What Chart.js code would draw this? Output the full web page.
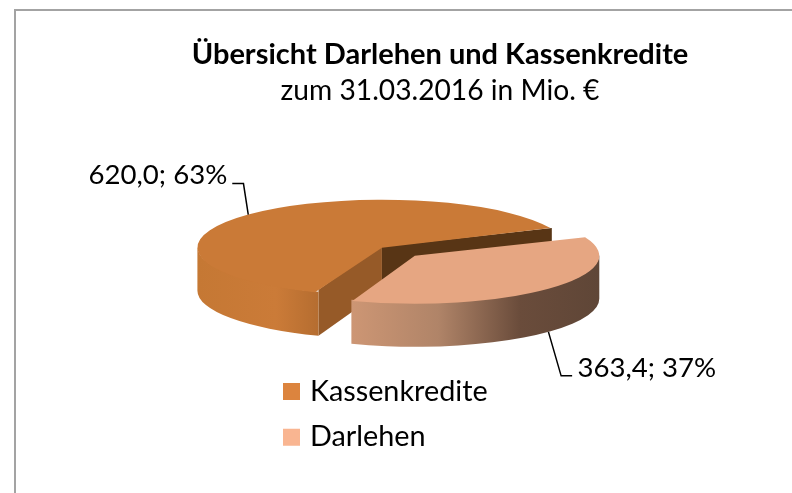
<!DOCTYPE html>
<html><head><meta charset="utf-8">
<script src="https://cdn.jsdelivr.net/npm/chart.js@4"></script>
<style>
html,body{margin:0;padding:0;background:#fff;width:792px;height:493px;overflow:hidden}
#frame{position:absolute;left:14px;top:9px;width:900px;height:600px;border:2px solid #A3A3A3;box-sizing:border-box}
#c{position:absolute;left:0;top:0}
</style></head><body>
<div id="frame"></div>
<canvas id="c" width="880" height="493"></canvas>
<script>
const categories = ['Kassenkredite', 'Darlehen'];
const values = [620.0, 363.4];
const titleText = 'Übersicht Darlehen und Kassenkredite';
const subtitleText = 'zum 31.03.2016 in Mio. €';
const topColors = ['#CA7A37', '#E6A682'];
const legendColors = ['#DC843E', '#F9B591'];
const sideStops = [
  [[0, '#C57834'], [0.65, '#CB7B38'], [1, '#B56D30']],
  [[0, '#CD9674'], [0.35, '#B08468'], [0.68, '#6A4C3B'], [1, '#5F4637']]
];
const wallStart = ['#965A28', null];
const wallEnd = ['#583515', null];
const labelElbows = [[-4.8, -31, -16, -31], [12.7, 44, 23.7, 44]];
const labelText = [[-21, -39, 'right'], [29, 36, 'left']];

const FONT = 'Lato';
const CX = 398.35, CY = 251.7, RX = 184.5, SQUASH = 0.26, DEPTH = 43, EXPLODE = 22.7, OFFSET_DIV = 4;

function slice(el) {
  const mid = (el.startAngle + el.endAngle) / 2;
  const off = el.options.offset / OFFSET_DIV;
  return {
    mid, a0: el.startAngle, a1: el.endAngle, r: RX,
    cx: el.x + Math.cos(mid) * off,
    cy: el.y + Math.sin(mid) * off * SQUASH
  };
}
const pie3d = {
  id: 'pie3d',
  afterLayout(chart) {
    chart.chartArea = {left: CX - 300, right: CX + 300, top: CY - 300, bottom: CY + 300, width: 600, height: 600};
    const l = chart.legend, w = l.width, h = l.height;
    l.left = 270.5; l.right = 270.5 + w; l.top = 360; l.bottom = 360 + h + 40;
  },
  afterDatasetsUpdate(chart) {
    // the arc element grows its drawn radius by offset * fix; compensate so both faces share RX
    chart.getDatasetMeta(0).data.forEach(el => {
      const off = el.options.offset / OFFSET_DIV;
      const fix = 1 - Math.sin(Math.min(Math.PI, el.circumference));
      el.outerRadius = RX - off * fix;
    });
  },
  beforeDatasetsDraw(chart) {
    const ctx = chart.ctx, arcs = chart.getDatasetMeta(0).data;
    arcs.forEach((el, i) => {
      const s = slice(el), ry = s.r * SQUASH;
      const pt = a => [s.cx + Math.cos(a) * s.r, s.cy + Math.sin(a) * ry];
      const wall = (a, color, lift) => {
        const p = pt(a);
        ctx.fillStyle = color;
        ctx.beginPath();
        ctx.moveTo(s.cx, s.cy - lift); ctx.lineTo(p[0], p[1] - lift);
        ctx.lineTo(p[0], p[1] + DEPTH); ctx.lineTo(s.cx, s.cy + DEPTH);
        ctx.closePath(); ctx.fill();
      };
      ctx.save();
      if (Math.sin(s.a1 + Math.PI / 2) > 0 && wallEnd[i]) wall(s.a1, wallEnd[i], 1);
      if (Math.sin(s.a0 - Math.PI / 2) > 0 && wallStart[i]) wall(s.a0, wallStart[i], 3);
      for (let k = 0; k < 2; k++) {
        const from = Math.max(s.a0, k * 2 * Math.PI), to = Math.min(s.a1, k * 2 * Math.PI + Math.PI);
        if (to <= from) continue;
        const xs = [pt(from)[0], pt(to)[0]];
        const g = ctx.createLinearGradient(Math.min(...xs), 0, Math.max(...xs), 0);
        sideStops[i].forEach(st => g.addColorStop(st[0], st[1]));
        ctx.fillStyle = g;
        ctx.beginPath();
        ctx.ellipse(s.cx, s.cy - 1, s.r, ry, 0, from, to, false);
        ctx.ellipse(s.cx, s.cy + DEPTH, s.r, ry, 0, to, from, true);
        ctx.closePath(); ctx.fill();
      }
      ctx.restore();
    });
    ctx.save();
    ctx.translate(CX, CY); ctx.scale(1, SQUASH); ctx.translate(-CX, -CY);
  },
  afterDatasetsDraw(chart) {
    chart.ctx.restore();
  },
  afterDraw(chart) {
    const ctx = chart.ctx, arcs = chart.getDatasetMeta(0).data;
    const total = values.reduce((a, b) => a + b, 0);
    arcs.forEach((el, i) => {
      const s = slice(el);
      const x = s.cx + Math.cos(s.mid) * s.r;
      const y = s.cy + Math.sin(s.mid) * s.r * SQUASH + (Math.sin(s.mid) > 0 ? DEPTH : 0);
      const e = labelElbows[i], t = labelText[i];
      ctx.save();
      ctx.strokeStyle = '#000'; ctx.lineWidth = 1.5;
      ctx.beginPath(); ctx.moveTo(x, y);
      ctx.lineTo(x + e[0], y + e[1]); ctx.lineTo(x + e[2], y + e[3]); ctx.stroke();
      ctx.fillStyle = '#000';
      ctx.font = '27.6px ' + FONT;
      ctx.textAlign = t[2]; ctx.textBaseline = 'middle';
      const label = values[i].toFixed(1).replace('.', ',') + '; ' + Math.round(values[i] / total * 100) + '%';
      ctx.fillText(label, x + t[0], y + t[1]);
      ctx.restore();
    });
  }
};
new Chart(document.getElementById('c'), {
  type: 'pie',
  plugins: [pie3d],
  data: {
    labels: categories,
    datasets: [{
      data: values,
      backgroundColor: topColors,
      borderWidth: 0,
      offset: EXPLODE * OFFSET_DIV,
      clip: false
    }]
  },
  options: {
    responsive: false,
    animation: false,
    rotation: 200.1,
    radius: RX - EXPLODE,
    layout: {padding: 0},
    plugins: {
      tooltip: {enabled: false},
      title: {display: true, text: titleText, color: '#000', font: {family: FONT, size: 29, weight: 'bold'}, padding: {top: 37, bottom: 1}},
      subtitle: {display: true, text: subtitleText, color: '#000', font: {family: FONT, size: 28.2, weight: 'normal'}, padding: {top: 1, bottom: 0}},
      legend: {
        position: 'left', align: 'start',
        labels: {
          boxWidth: 8, boxHeight: 17, padding: 17, color: '#000', usePointStyle: true,
          font: {family: FONT, size: 28.8},
          generateLabels: () => categories.map((c, i) => ({text: c, fillStyle: legendColors[i], strokeStyle: legendColors[i], lineWidth: 0, pointStyle: 'rect', index: i}))
        }
      }
    }
  }
});
</script>
</body></html>
